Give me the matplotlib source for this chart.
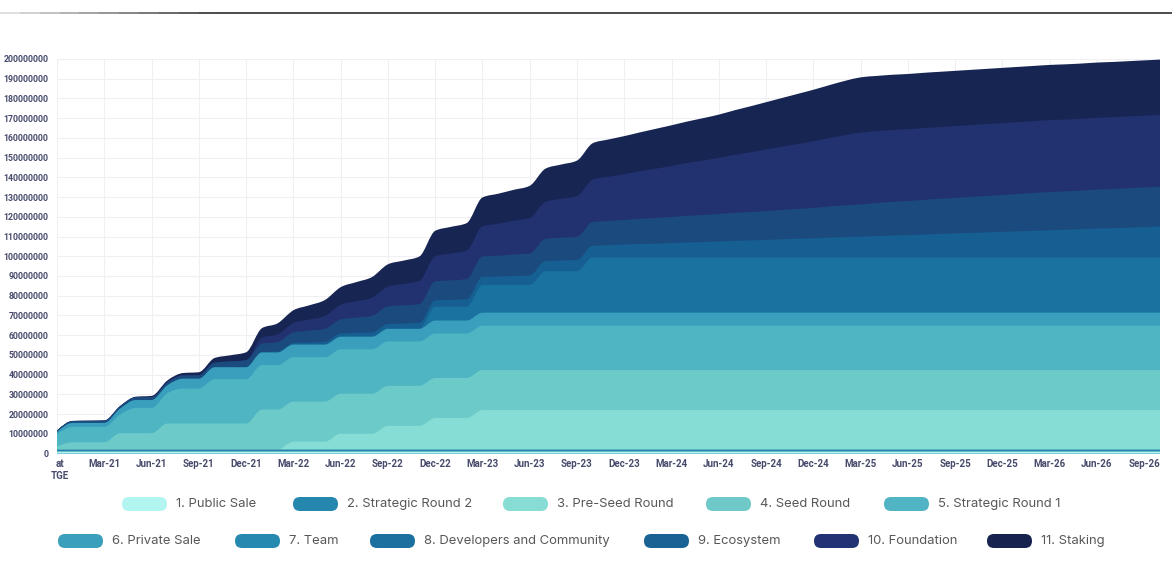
import numpy as np
import matplotlib
matplotlib.use("Agg")
import matplotlib.pyplot as plt
from matplotlib.path import Path
from matplotlib.patches import PathPatch, FancyBboxPatch
from matplotlib.collections import LineCollection
from matplotlib.transforms import IdentityTransform, ScaledTranslation

# ---- data (millions of tokens unlocked, one value per month from TGE) ----
tick_labels = ["at\nTGE", "Mar-21", "Jun-21", "Sep-21", "Dec-21", "Mar-22", "Jun-22",
               "Sep-22", "Dec-22", "Mar-23", "Jun-23", "Sep-23", "Dec-23", "Mar-24",
               "Jun-24", "Sep-24", "Dec-24", "Mar-25", "Jun-25", "Sep-25", "Dec-25",
               "Mar-26", "Jun-26", "Sep-26"]

names = ["1. Public Sale", "2. Strategic Round 2", "3. Pre-Seed Round", "4. Seed Round",
         "5. Strategic Round 1", "6. Private Sale", "7. Team", "8. Developers and Community",
         "9. Ecosystem", "10. Foundation", "11. Staking"]

public_sale = [1.0] * 71
strategic_round_2 = [1.0] * 71
pre_seed = [0.0] * 15 + [4.0] * 3 + [8.0] * 3 + [12.0] * 3 + [16.0] * 3 + [20.0] * 44
seed = [1.5] + [3.7] * 3 + [8.3] * 3 + [13.2] * 6 + [20.3] * 58
strategic_round_1 = [6.3] + [7.8] * 3 + [9.4] + [12.8] * 2 + [15.3] + [17.7] * 2 + [22.5] * 61
private_sale = [1.0] + [2.0] * 3 + [3.0] + [4.0] * 3 + [5.0] * 2 + [6.0] * 3 + [6.4] * 11 + [6.6] * 47
team = [0.0] * 24 + [7.0] * 3 + [14.0] * 4 + [21.0] * 3 + [28.0] * 37
developers = [0.0] * 13 + [
    0.3, 0.5, 0.8, 1.1, 1.4, 1.6, 1.9, 2.2, 2.4, 2.7, 3.0, 3.2, 3.5, 3.8, 4.1, 4.3,
    4.6, 4.9, 5.1, 5.4, 5.7, 5.9, 6.2, 6.5, 6.8, 7.0, 7.3, 7.6, 7.8, 8.1, 8.4, 8.6,
    8.9, 9.2, 9.5, 9.7, 10.0, 10.3, 10.5, 10.8, 11.1, 11.3, 11.6, 11.9, 12.2, 12.4,
    12.7, 13.0, 13.2, 13.5, 13.8, 14.0, 14.3, 14.6, 14.8, 15.1, 15.4, 15.7]
ecosystem = [
    0.8, 1.0, 1.1, 1.2, 1.3, 1.4, 1.5, 1.6, 1.7, 1.8, 2.4, 3.0, 3.6, 4.2, 4.8, 5.4,
    6.0, 6.6, 7.2, 7.8, 8.4, 9.0, 9.2, 9.5, 9.7, 9.9, 10.2, 10.4, 10.6, 10.9, 11.1,
    11.3, 11.6, 11.8, 12.1, 12.3, 12.5, 12.8, 13.0, 13.2, 13.5, 13.7, 13.9, 14.2,
    14.4, 14.6, 14.9, 15.1, 15.4, 15.8, 16.1, 16.4, 16.8, 17.1, 17.3, 17.6, 17.8,
    18.0, 18.3, 18.5, 18.7, 19.0, 19.2, 19.4, 19.5, 19.6, 19.8, 19.9, 20.0, 20.1, 20.2]
foundation = [0.0] * 13 + [
    3.0, 3.9, 4.8, 5.6, 6.5, 7.4, 8.3, 9.2, 10.0, 10.9, 11.8, 12.7, 13.6, 14.4, 15.3,
    16.2, 17.1, 18.0, 18.8, 19.7, 20.6, 21.5, 22.4, 23.2, 24.1, 25.0, 25.9, 26.8,
    27.6, 28.5, 29.4, 30.3, 31.2, 32.0, 32.9, 33.8, 34.7, 35.6, 36.4] + [36.4] * 19
staking = [0.0] * 5 + [
    0.3, 0.6, 0.9, 1.2, 1.5, 2.3, 3.1, 4.0, 4.8, 5.6, 6.4, 7.2, 8.1, 8.9, 9.7, 10.5,
    11.3, 11.8, 12.4, 12.9, 13.5, 14.0, 14.6, 15.2, 15.7, 16.3, 16.8, 17.4, 18.0,
    18.4, 18.9, 19.3, 19.7, 20.2, 20.6, 21.0, 21.5, 21.9, 22.6, 23.3, 24.0, 24.7,
    25.4, 26.1, 26.8, 27.5, 28.0] + [28.0] * 19

series = [public_sale, strategic_round_2, pre_seed, seed, strategic_round_1,
          private_sale, team, developers, ecosystem, foundation, staking]

fill_colors = ["#b2f3ef", "#2682aa", "#86ddd5", "#6ccac8", "#4fb5c3", "#3a9fbc",
               "#1a72a0", "#165f92", "#1b4a7e", "#22316f", "#172553"]
legend_colors = ["#b2f5f0", "#2687ae", "#87ddd4", "#6ec9c8", "#50b4c4", "#3a9fbb",
                 "#2689b0", "#1b70a0", "#196394", "#213374", "#18224f"]


def smooth_verts(x, y):
    # monotone cubic through the monthly points, as bezier vertices
    h = np.diff(x)
    s = np.diff(y) / h
    t = np.zeros(len(y))
    for i in range(1, len(y) - 1):
        p = (s[i - 1] * h[i] + s[i] * h[i - 1]) / (h[i - 1] + h[i])
        t[i] = (np.sign(s[i - 1]) + np.sign(s[i])) * min(abs(s[i - 1]), abs(s[i]), 0.5 * abs(p))
    t[0] = (3 * s[0] - t[1]) / 2
    t[-1] = (3 * s[-1] - t[-2]) / 2
    verts = [(x[0], y[0])]
    for i in range(len(y) - 1):
        verts.append((x[i] + h[i] / 3, y[i] + t[i] * h[i] / 3))
        verts.append((x[i + 1] - h[i] / 3, y[i + 1] - t[i + 1] * h[i] / 3))
        verts.append((x[i + 1], y[i + 1]))
    return verts


fig = plt.figure(figsize=(11.72, 5.64), dpi=100)
ax = fig.add_axes([57 / 1172, 1 - 453.5 / 564, 1103 / 1172, 394.5 / 564])

data = np.array(series)
cum = np.cumsum(data, axis=0)
x = np.arange(data.shape[1], dtype=float)

for k in range(len(series) - 1, -1, -1):
    top = smooth_verts(x, cum[k])
    verts = top + [(x[-1], 0), (x[0], 0), (x[0], 0)]
    codes = [Path.MOVETO] + [Path.CURVE4] * (len(top) - 1) + [Path.LINETO, Path.LINETO, Path.CLOSEPOLY]
    ax.add_patch(PathPatch(Path(verts, codes), facecolor=fill_colors[k],
                           edgecolor="none", zorder=2))

ax.set_xlim(0, 70)
ax.set_ylim(0, 200)
ax.set_xticks(range(0, 70, 3))
ax.set_xticklabels(tick_labels)
ax.set_yticks(range(0, 201, 10))
ax.set_yticklabels([str(v * 1000000) for v in range(0, 201, 10)])
ax.grid(True, color="#f0f0f4", linewidth=0.8)
ax.set_axisbelow(True)
for sp in ax.spines.values():
    sp.set_visible(False)
ax.tick_params(axis="both", length=0, colors="#474b6c")
ax.tick_params(axis="y", pad=6)
ax.tick_params(axis="x", pad=4)
for lab in ax.get_yticklabels():
    lab.set_fontfamily("Roboto")
    lab.set_fontweight("bold")
    lab.set_fontsize(6.3)
for lab in ax.get_xticklabels():
    lab.set_fontfamily("Roboto")
    lab.set_fontweight("bold")
    lab.set_fontsize(7.0)
    lab.set_linespacing(1.25)
first = ax.get_xticklabels()[0]
first.set_transform(first.get_transform() + ScaledTranslation(3 / 100, 0, fig.dpi_scale_trans))

# thin rule across the top, fading in from the left
xs = np.linspace(0, 1172, 60)
segs = [[(xs[i], 551), (xs[i + 1], 551)] for i in range(len(xs) - 1)]
shade = np.clip(xs[:-1] / 200, 0, 1)
seg_colors = [(0.85 - 0.68 * v, 0.85 - 0.68 * v, 0.85 - 0.68 * v) for v in shade]
fig.add_artist(LineCollection(segs, colors=seg_colors, linewidths=1.2,
                              transform=IdentityTransform()))

# legend: two rows of rounded swatches
rows = [(504, [122, 293, 503, 706, 884]), (541, [58, 235, 370, 644, 814, 987])]
k = 0
for y_pix, lefts in rows:
    yc = 564 - y_pix
    for left in lefts:
        fig.add_artist(FancyBboxPatch((left, yc - 7), 45, 14,
                                      boxstyle="round,pad=0,rounding_size=7",
                                      facecolor=legend_colors[k], edgecolor="none",
                                      transform=IdentityTransform()))
        fig.text((left + 54) / 1172, yc / 564, names[k], ha="left", va="center",
                 fontsize=9.4, color="#585858", family="Inter")
        k += 1

fig.savefig("out.png", dpi=100)
